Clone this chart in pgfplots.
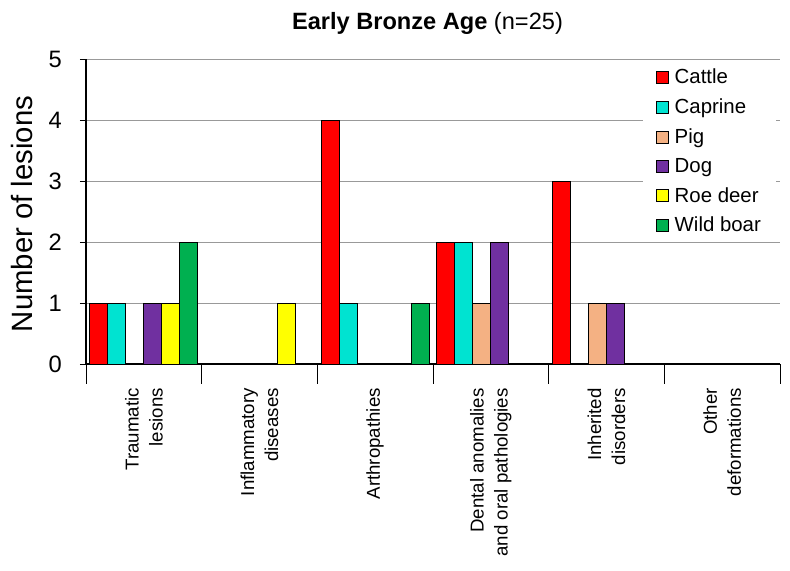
\documentclass[border=0pt]{standalone}
\usepackage{pgfplots}
\pgfplotsset{compat=1.18}
\usepackage{fontspec}
\setmainfont{Liberation Sans}
\definecolor{cCattle}{HTML}{FF0000}
\definecolor{cCaprine}{HTML}{00E3D1}
\definecolor{cPig}{HTML}{F4B183}
\definecolor{cDog}{HTML}{7030A0}
\definecolor{cRoe}{HTML}{FFFF00}
\definecolor{cBoar}{HTML}{00B050}
\begin{document}
\begin{tikzpicture}
\begin{axis}[
  at={(0,0)}, anchor=south west,
  scale only axis, clip=false,
  width=520.5pt, height=228.75pt,
  xmin=-0.5, xmax=5.5, ymin=0, ymax=5,
  ybar=0pt, bar width=13.5pt,
  axis x line*=bottom, axis y line*=left,
  axis line style={black, line width=0.8pt},
  tick align=outside,
  xtick={0,1,2,3,4,5},
  xticklabels={{Traumatic\\lesions},{Inflammatory\\diseases},{Arthropathies},{Dental anomalies\\and oral pathologies},{Inherited\\disorders},{Other\\deformations}},
  minor xtick={-0.5,0.5,1.5,2.5,3.5,4.5,5.5},
  major x tick style={draw=none},
  minor x tick style={black, line width=0.7pt},
  minor tick length=15pt,
  major tick length=4.5pt,
  y tick style={black, line width=0.7pt},
  ytick={0,1,2,3,4,5},
  ymajorgrids,
  grid style={gray!80, line width=0.7pt},
  /pgf/number format/assume math mode=true,
  yticklabel style={font=\fontsize{17.8}{20}\selectfont, anchor=east, inner sep=0pt, xshift=-13.5pt},
  xticklabel style={yshift=-13.5pt, rotate=90, anchor=east, align=right, inner sep=0pt, font=\fontsize{14}{18}\selectfont},
  ylabel={Number of lesions},
  ylabel style={at={(axis description cs:-0.0922,0.492)}, anchor=center, font=\fontsize{22}{26}\selectfont},
  legend style={at={(axis description cs:0.8026,0.99)}, anchor=north west, draw=none, fill=white,
    font=\fontsize{15.3}{18}\selectfont, row sep=5.75pt, column sep=2.5pt, inner xsep=9.5pt, inner ysep=3pt},
  legend cell align=left,
  legend image code/.code={\draw[#1, draw=black, line width=0.6pt] (0pt,-4.5pt) rectangle (9pt,4.5pt);},
]
\addplot[fill=cCattle, draw=black, line width=0.6pt] coordinates {(0,1) (2,4) (3,2) (4,3)};
\addplot[fill=cCaprine, draw=black, line width=0.6pt] coordinates {(0,1) (2,1) (3,2)};
\addplot[fill=cPig, draw=black, line width=0.6pt] coordinates {(3,1) (4,1)};
\addplot[fill=cDog, draw=black, line width=0.6pt] coordinates {(0,1) (3,2) (4,1)};
\addplot[fill=cRoe, draw=black, line width=0.6pt] coordinates {(0,1) (1,1)};
\addplot[fill=cBoar, draw=black, line width=0.6pt] coordinates {(0,2) (2,1)};
\legend{Cattle, Caprine, Pig, Dog, Roe deer, Wild boar}
\node[anchor=base, font=\fontsize{17.7}{20}\selectfont] at (rel axis cs:0.492,1) [yshift=22.5pt] {\textbf{Early Bronze Age} (n=25)};
\end{axis}
\pgfresetboundingbox
\useasboundingbox (-64.5pt,-155.25pt) rectangle (528pt,273pt);
\end{tikzpicture}
\end{document}
